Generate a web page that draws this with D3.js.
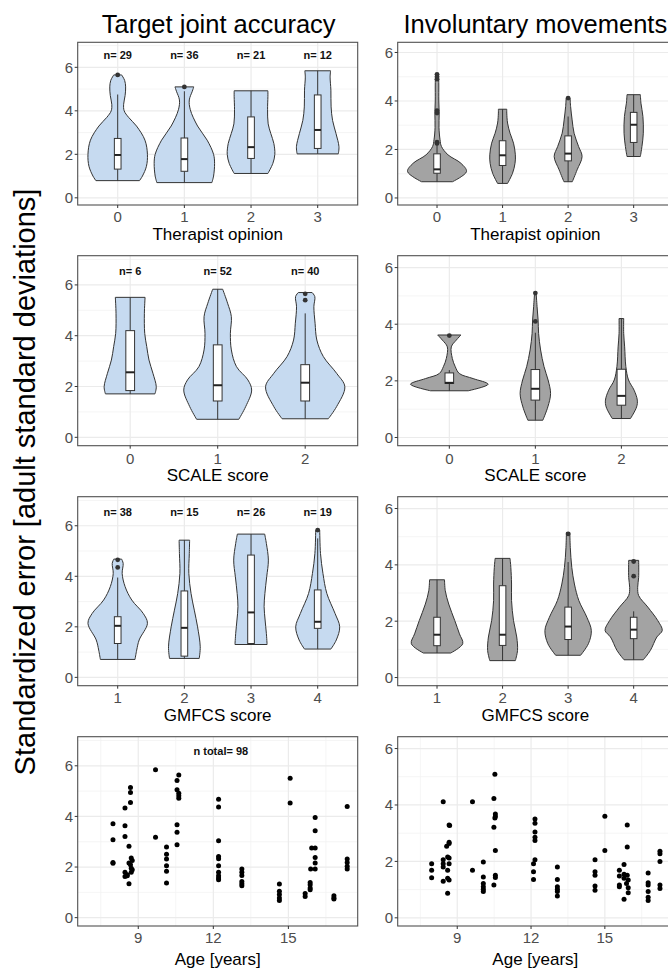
<!DOCTYPE html>
<html><head><meta charset="utf-8">
<script src="https://cdn.jsdelivr.net/npm/d3@7"></script>
<style>body{margin:0;background:#fff;overflow:hidden} svg{display:block}</style>
</head><body>
<script>
// ---------------- DATA ----------------
const therapistCats = ["0","1","2","3"];
const scaleCats = ["0","1","2"];
const gmfcsCats = ["1","2","3","4"];
const nTherapist = [29,36,21,12];
const nScale = [6,52,40];
const nGmfcs = [38,15,26,19];
const nTotal = 98;
const yTicks = [0,2,4,6];
const ageTicks = [9,12,15];

// violin profiles: [value, half-width in category units]
const tjaTherapistViolins = [
  [[0.79,.327],[1.0,.371],[1.45,.431],[2.0,.446],[2.65,.409],[3.3,.282],[3.7,.163],[4.0,.097],[4.3,.089],[4.7,.111],[5.1,.119],[5.4,.104],[5.65,.059]],
  [[0.7,.413],[1.0,.438],[1.58,.453],[2.0,.438],[2.65,.342],[3.3,.198],[4.05,.089],[4.5,.074],[4.9,.119],[5.1,.141]],
  [[1.12,.253],[1.58,.327],[2.0,.357],[2.5,.342],[2.95,.297],[3.4,.257],[4.05,.248],[4.65,.253],[4.92,.253]],
  [[2.02,.309],[2.35,.319],[2.95,.275],[3.56,.223],[4.18,.201],[4.95,.198],[5.55,.186],[5.84,.193]]
];
// box stats: [whiskerLow, q1, median, q3, whiskerHigh]
const tjaTherapistBoxes = [[0.79,1.32,1.97,2.73,4.75],[0.7,1.22,1.78,2.75,4.9],[1.12,1.81,2.33,3.72,4.92],[2.02,2.27,3.12,4.73,5.84]];
const tjaTherapistOutliers = [[5.65],[5.1],[],[]];

const imTherapistViolins = [
  [[0.67,.236],[1.09,.45],[1.43,.365],[1.78,.167],[2.12,.068],[2.4,.046],[2.9,.030],[3.5,.033],[4.0,.027],[4.7,.027],[5.12,.023]],
  [[0.6,.076],[1.02,.152],[1.43,.19],[1.78,.195],[2.26,.167],[2.67,.114],[3.09,.076],[3.5,.064],[3.66,.064]],
  [[0.67,.064],[1.16,.137],[1.71,.213],[2.12,.16],[2.67,.091],[3.22,.061],[3.77,.038],[4.12,.03]],
  [[1.71,.102],[2.12,.126],[2.67,.147],[3.36,.141],[3.91,.111],[4.26,.102]]
];
const imTherapistBoxes = [[0.67,1.02,1.18,1.82,2.2],[0.6,1.34,1.76,2.36,3.66],[0.67,1.53,1.83,2.56,3.36],[1.71,2.29,3.02,3.53,4.26]];
const imTherapistOutliers = [[5.1,5.0,4.9,3.6,3.5,2.3,2.25],[],[4.12],[]];

const tjaScaleViolins = [
  [[1.71,.283],[1.99,.298],[2.52,.26],[3.04,.215],[3.57,.189],[4.09,.166],[4.88,.162],[5.51,.17]],
  [[0.71,.241],[1.21,.32],[1.86,.388],[2.26,.345],[2.78,.215],[3.44,.156],[4.09,.145],[4.75,.156],[5.28,.113],[5.83,.057]],
  [[0.73,.264],[1.21,.359],[1.99,.453],[2.52,.359],[3.18,.207],[3.83,.133],[4.49,.113],[5.14,.099],[5.54,.11],[5.7,.079]]
];
const tjaScaleBoxes = [[1.71,1.84,2.56,4.2,5.51],[0.71,1.43,2.05,3.64,5.83],[0.73,1.43,2.15,2.86,4.88]];
const tjaScaleOutliers = [[],[],[5.65,5.4]];

const imScaleViolins = [
  [[1.65,.22],[1.88,.451],[2.08,.277],[2.26,.116],[2.5,.069],[2.79,.035],[3.2,.023],[3.44,.081],[3.62,.135]],
  [[0.61,.087],[1.08,.145],[1.55,.177],[2.03,.148],[2.5,.101],[3.09,.061],[3.67,.038],[4.15,.032],[4.62,.02],[5.11,.009]],
  [[0.67,.106],[1.08,.177],[1.32,.185],[1.67,.148],[2.03,.083],[2.5,.052],[3.2,.038],[3.67,.027],[4.2,.027]]
];
const imScaleBoxes = [[1.65,1.91,1.93,2.28,2.38],[0.61,1.32,1.72,2.4,3.7],[0.67,1.14,1.47,2.41,4.2]];
const imScaleOutliers = [[3.6],[4.1,5.1],[]];

const tjaGmfcsViolins = [
  [[0.71,.26],[1.08,.285],[1.48,.322],[2.14,.446],[2.53,.383],[3.06,.211],[3.59,.111],[4.11,.067],[4.51,.082],[4.68,.059]],
  [[0.75,.223],[1.21,.238],[2.0,.198],[2.66,.149],[3.32,.1],[4.11,.067],[4.9,.074],[5.43,.079]],
  [[1.3,.241],[1.74,.23],[2.27,.211],[2.8,.196],[3.32,.208],[3.98,.235],[4.64,.26],[5.3,.23],[5.67,.205]],
  [[1.12,.198],[1.48,.279],[2.0,.33],[2.53,.26],[3.32,.137],[4.11,.079],[4.9,.042],[5.83,.03]]
];
const tjaGmfcsBoxes = [[0.71,1.34,2.04,2.4,3.95],[0.75,0.84,1.96,3.42,5.43],[1.3,1.34,2.57,4.84,5.67],[1.12,1.94,2.2,3.46,5.5]];
const tjaGmfcsOutliers = [[4.65,4.35],[],[],[5.83]];

const imGmfcsViolins = [
  [[0.87,.208],[1.2,.392],[1.55,.342],[2.02,.271],[2.61,.178],[3.08,.126],[3.47,.114]],
  [[0.6,.195],[0.96,.228],[1.44,.216],[2.02,.167],[2.73,.137],[3.32,.137],[3.91,.126],[4.23,.114]],
  [[0.79,.19],[1.2,.309],[1.67,.354],[2.14,.286],[2.73,.164],[3.32,.096],[3.91,.056],[4.62,.033],[5.15,.026]],
  [[0.63,.147],[0.96,.254],[1.44,.354],[1.67,.436],[2.02,.368],[2.5,.216],[2.91,.076],[3.2,.061],[3.55,.076],[4.16,.076]]
];
const imGmfcsBoxes = [[0.87,1.13,1.52,2.14,3.47],[0.6,1.14,1.52,3.26,4.23],[0.79,1.35,1.81,2.5,4.1],[0.63,1.38,1.7,2.14,2.35]];
const imGmfcsOutliers = [[],[],[5.1],[4.12,3.6]];

// scatter: [age, value]
const tjaAgePoints = [
  [7.99,3.71],[7.99,3.08],[7.99,2.18],[7.99,2.15],
  [8.47,4.33],[8.47,3.63],[8.47,3.21],[8.47,1.79],[8.47,1.63],
  [8.56,1.7],[8.56,1.66],[8.63,2.82],[8.63,1.34],[8.63,2.16],
  [8.69,5.14],[8.69,4.95],[8.69,4.55],[8.69,2.09],
  [8.72,2.36],[8.72,1.79],[8.72,1.95],[8.76,2.26],[8.76,1.89],
  [9.69,5.84],[9.69,3.18],
  [10.13,2.79],[10.13,2.51],[10.13,2.32],[10.13,2.05],[10.13,1.83],[10.13,1.37],
  [10.55,5.42],[10.55,5.05],[10.55,3.67],[10.55,3.37],[10.55,2.88],
  [10.62,5.64],[10.62,4.92],[10.62,4.82],[10.62,4.72],
  [12.21,4.68],[12.21,4.37],[12.21,3.04],[12.21,2.42],[12.21,2.33],[12.21,2.05],[12.21,1.79],[12.21,1.66],[12.21,1.57],[12.21,1.5],
  [13.14,1.92],[13.14,1.79],[13.14,1.67],[13.14,1.43],[13.14,1.34],[13.14,1.26],
  [14.64,1.33],[14.64,1.04],[14.64,0.91],[14.64,0.78],[14.64,0.68],
  [15.07,5.51],[15.07,4.53],
  [15.67,0.95],[15.67,0.84],
  [15.87,1.39],[15.87,1.3],[15.87,1.17],[15.87,1.1],[15.89,1.92],[15.93,2.75],
  [16.07,2.75],[16.07,3.43],[16.07,3.96],[16.07,2.38],[16.07,2.16],[16.07,1.92],
  [16.82,0.87],[16.82,0.78],[16.82,0.74],
  [17.35,4.39],[17.35,2.32],[17.35,2.18],[17.35,2.03],[17.35,1.92]
];
const imAgePoints = [
  [7.96,1.92],[7.96,1.69],[7.96,1.42],
  [8.43,4.11],[8.43,2.06],[8.43,1.92],[8.43,1.8],[8.43,1.3],
  [8.61,1.4],[8.61,0.87],[8.61,2.16],[8.61,1.69],[8.57,2.54],
  [8.67,3.29],[8.69,3.27],[8.67,2.68],[8.67,2.63],[8.67,2.12],[8.67,1.92],[8.67,1.34],
  [9.62,4.11],[9.62,1.69],
  [10.06,1.98],[10.06,1.45],[10.06,1.22],[10.06,1.1],[10.06,1.01],[10.06,0.93],
  [10.53,5.09],[10.49,4.23],[10.55,3.68],[10.55,3.59],[10.53,3.54],[10.49,3.21],[10.55,2.39],[10.55,1.51],[10.55,1.43],[10.49,1.16],
  [12.16,3.5],[12.16,3.35],[12.16,3.04],[12.16,2.86],[12.16,2.74],[12.16,2.06],[12.1,1.92],[12.1,1.63],[12.1,1.36],
  [13.07,1.8],[13.07,1.36],[13.07,1.1],[13.07,1.01],[13.07,0.93],[13.07,0.77],
  [14.6,2.06],[14.6,1.63],[14.6,1.51],[14.6,1.13],[14.6,0.98],
  [15.0,3.6],[15.0,2.39],
  [15.59,1.69],[15.59,1.48],[15.59,1.16],[15.59,1.1],
  [15.78,1.89],[15.78,1.54],[15.78,1.4],[15.78,0.66],
  [15.91,3.29],[15.91,2.51],[15.91,1.51],[15.95,1.34],[15.95,1.07],[15.95,0.89],[15.88,1.22],
  [16.76,1.59],[16.76,1.24],[16.76,1.16],[16.76,0.93],[16.76,0.73],[16.76,0.61],
  [17.24,2.36],[17.24,2.27],[17.24,2.0],[17.24,1.16],[17.24,1.04]
];

// ---------------- LAYOUT / STYLE ----------------
const W = 668, H = 971;
const FONT = "'Liberation Sans', Arial, Helvetica, sans-serif";
const cols = [{x0:77.7, x1:357.7}, {x0:397.7, x1:673}];
const rows = [{y0:42.3,y1:205,tickY:216.7,titleY:234.3,title:"Therapist opinion"},
              {y0:255.7,y1:445.7,tickY:458.3,titleY:475,title:"SCALE score"},
              {y0:496.7,y1:685.7,tickY:698,titleY:715,title:"GMFCS score"},
              {y0:736.7,y1:926,tickY:938,titleY:959,title:"Age [years]"}];
const yDomains = [[-0.33,7.15],[-0.29,6.42]];
const fills = ["#C6DAF0","#A3A3A3"];

const svg = d3.select("body").append("svg").attr("width",W).attr("height",H)
  .style("font-family",FONT);
svg.append("rect").attr("width",W).attr("height",H).attr("fill","#fff");

function panelFrame(ci, ri, x, isAge) {
  const c = cols[ci], r = rows[ri];
  const y = d3.scaleLinear(yDomains[ci], [r.y1, r.y0]);
  const g = svg.append("g");
  g.append("rect").attr("x",c.x0).attr("y",r.y0).attr("width",c.x1-c.x0).attr("height",r.y1-r.y0).attr("fill","#fff");
  const yMinor = [1,3,5,7].filter(v => v>=yDomains[ci][0] && v<=yDomains[ci][1]);
  g.selectAll(null).data(yMinor).join("line")
    .attr("x1",c.x0).attr("x2",c.x1).attr("y1",d=>y(d)).attr("y2",d=>y(d))
    .attr("stroke","#F2F2F2").attr("stroke-width",0.8);
  if (isAge) {
    const xMinor = [7.5,10.5,13.5,16.5];
    g.selectAll(null).data(xMinor).join("line")
      .attr("y1",r.y0).attr("y2",r.y1).attr("x1",d=>x(d)).attr("x2",d=>x(d))
      .attr("stroke","#F2F2F2").attr("stroke-width",0.8);
  }
  g.selectAll(null).data(yTicks).join("line")
    .attr("x1",c.x0).attr("x2",c.x1).attr("y1",d=>y(d)).attr("y2",d=>y(d))
    .attr("stroke","#EBEBEB").attr("stroke-width",1.2);
  const xt = isAge ? ageTicks : x.domain();
  g.selectAll(null).data(xt).join("line")
    .attr("y1",r.y0).attr("y2",r.y1).attr("x1",d=>x(d)).attr("x2",d=>x(d))
    .attr("stroke","#EBEBEB").attr("stroke-width",1.2);
  return {g, y, c, r};
}

function panelAxes(p, x, isAge) {
  const {c, r, y} = p;
  const g = svg.append("g");
  g.append("rect").attr("x",c.x0).attr("y",r.y0).attr("width",c.x1-c.x0).attr("height",r.y1-r.y0)
    .attr("fill","none").attr("stroke","#505050").attr("stroke-width",1.1);
  g.selectAll(null).data(yTicks).join("line")
    .attr("x1",c.x0-3).attr("x2",c.x0).attr("y1",d=>y(d)).attr("y2",d=>y(d))
    .attr("stroke","#333").attr("stroke-width",1);
  g.selectAll(null).data(yTicks).join("text")
    .attr("x",c.x0-4.5).attr("y",d=>y(d)).attr("dy","0.36em")
    .attr("text-anchor","end").attr("font-size",15).attr("fill","#4D4D4D").text(d=>d);
  const xt = isAge ? ageTicks : x.domain();
  g.selectAll(null).data(xt).join("line")
    .attr("y1",r.y1).attr("y2",r.y1+3).attr("x1",d=>x(d)).attr("x2",d=>x(d))
    .attr("stroke","#333").attr("stroke-width",1);
  g.selectAll(null).data(xt).join("text")
    .attr("x",d=>x(d)).attr("y",r.tickY).attr("dy","0.36em")
    .attr("text-anchor","middle").attr("font-size",15).attr("fill","#4D4D4D").text(d=>d);
  g.append("text").attr("x",(c.x0+c.x1)/2).attr("y",r.titleY).attr("dy","0.36em")
    .attr("text-anchor","middle").attr("font-size",17).attr("fill","#000").text(r.title);
}

function violinPanel(ci, ri, cats, violins, boxes, outliers, ns) {
  const c = cols[ci];
  const x = d3.scalePoint(cats, [c.x0, c.x1]).padding(0.6);
  const step = x.step();
  const p = panelFrame(ci, ri, x, false);
  const {g, y} = p;
  cats.forEach((cat, i) => {
    const cx = x(cat);
    const area = d3.area().curve(d3.curveCatmullRom.alpha(0.5))
      .y(d => y(d[0])).x0(d => cx - d[1]*step).x1(d => cx + d[1]*step);
    g.append("path").attr("d", area(violins[i]))
      .attr("fill", fills[ci]).attr("stroke","#333").attr("stroke-width",1);
    const b = boxes[i];
    const bw = 0.05*step;
    g.append("line").attr("x1",cx).attr("x2",cx).attr("y1",y(b[0])).attr("y2",y(b[1])).attr("stroke","#333").attr("stroke-width",1);
    g.append("line").attr("x1",cx).attr("x2",cx).attr("y1",y(b[3])).attr("y2",y(b[4])).attr("stroke","#333").attr("stroke-width",1);
    g.append("rect").attr("x",cx-bw).attr("width",2*bw).attr("y",y(b[3])).attr("height",y(b[1])-y(b[3]))
      .attr("fill","#fff").attr("stroke","#333").attr("stroke-width",1);
    g.append("line").attr("x1",cx-bw).attr("x2",cx+bw).attr("y1",y(b[2])).attr("y2",y(b[2])).attr("stroke","#222").attr("stroke-width",2);
    g.selectAll(null).data(outliers[i]).join("circle")
      .attr("cx",cx).attr("cy",d=>y(d)).attr("r",2.4).attr("fill","#333");
    if (ns) {
      g.append("text").attr("x",cx).attr("y",y(6.55)).attr("dy","0.36em").attr("text-anchor","middle")
        .attr("font-size",11).attr("font-weight","bold").attr("fill","#111").text("n= " + ns[i]);
    }
  });
  panelAxes(p, x, false);
}

function scatterPanel(ci, ri, pts, showN) {
  const c = cols[ci];
  const x = d3.scaleLinear([6.58, 17.77], [c.x0, c.x1]);
  const p = panelFrame(ci, ri, x, true);
  const {g, y} = p;
  g.selectAll(null).data(pts).join("circle")
    .attr("cx",d=>x(d[0])).attr("cy",d=>y(d[1])).attr("r",2.5).attr("fill","#000");
  if (showN) {
    g.append("text").attr("x",x(12.3)).attr("y",y(6.57)).attr("dy","0.36em").attr("text-anchor","middle")
      .attr("font-size",11).attr("font-weight","bold").attr("fill","#111").text("n total= " + nTotal);
  }
  panelAxes(p, x, true);
}

violinPanel(0,0,therapistCats,tjaTherapistViolins,tjaTherapistBoxes,tjaTherapistOutliers,nTherapist);
violinPanel(1,0,therapistCats,imTherapistViolins,imTherapistBoxes,imTherapistOutliers,null);
violinPanel(0,1,scaleCats,tjaScaleViolins,tjaScaleBoxes,tjaScaleOutliers,nScale);
violinPanel(1,1,scaleCats,imScaleViolins,imScaleBoxes,imScaleOutliers,null);
violinPanel(0,2,gmfcsCats,tjaGmfcsViolins,tjaGmfcsBoxes,tjaGmfcsOutliers,nGmfcs);
violinPanel(1,2,gmfcsCats,imGmfcsViolins,imGmfcsBoxes,imGmfcsOutliers,null);
scatterPanel(0,3,tjaAgePoints,true);
scatterPanel(1,3,imAgePoints,false);

svg.append("text").attr("x",(cols[0].x0+cols[0].x1)/2+1).attr("y",24).attr("dy","0.36em")
  .attr("text-anchor","middle").attr("font-size",25.5).attr("fill","#000").text("Target joint accuracy");
svg.append("text").attr("x",(cols[1].x0+cols[1].x1)/2).attr("y",24).attr("dy","0.36em")
  .attr("text-anchor","middle").attr("font-size",25.5).attr("fill","#000").text("Involuntary movements");
svg.append("text").attr("transform","translate(35,482) rotate(-90)")
  .attr("text-anchor","middle").attr("font-size",29).attr("fill","#000")
  .text("Standardized error [adult standard deviations]");
</script>
</body></html>
